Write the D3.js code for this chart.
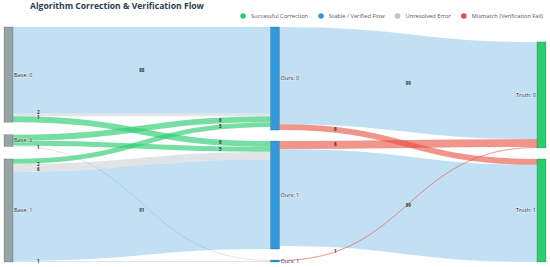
<!DOCTYPE html>
<html>
<head>
<meta charset="utf-8">
<script src="https://cdn.jsdelivr.net/npm/d3@7"></script>
<style>
body { margin: 0; background: #fff; }
svg { display: block; font-family: "Open Sans", sans-serif; }
</style>
</head>
<body>
<div id="vis"></div>
<script>
// constants for the visualization
const FRAME_WIDTH = 550;
const FRAME_HEIGHT = 267;
const MARGINS = {left: 4, right: 4, top: 27, bottom: 5};
const VIS_HEIGHT = FRAME_HEIGHT - (MARGINS.top + MARGINS.bottom);
const NODE_WIDTH = 9;
const NODE_PAD = 11;

// nodes: id, label and column
const NODE_IDS = ["b0", "b2", "b1", "o0", "o1", "o2", "t0", "t1"];
const NODE_LABELS = ["Base: 0", "Base: 2", "Base: 1", "Ours: 0", "Ours: 1", "Ours: 1", "Truth: 0", "Truth: 1"];
const NODE_COLUMNS = [0, 0, 0, 1, 1, 1, 2, 2];
const COLUMN_COLORS = ["#95a5a6", "#3498db", "#2ecc71"];
const COLUMN_ALIGN = ["justify", "justify", "end"];

// links
const LINK_SOURCES = ["b0", "b0", "b0", "b0", "b2", "b2", "b2", "b1", "b1", "b1", "b1", "b1", "o0", "o0", "o1", "o1", "o2"];
const LINK_TARGETS = ["o0", "o0", "o0", "o1", "o0", "o1", "o2", "o0", "o1", "o1", "o1", "o2", "t0", "t1", "t0", "t1", "t0"];
const LINK_VALUES = [88, 2, 1, 6, 6, 5, 1, 5, 2, 6, 91, 1, 99, 6, 8, 99, 1];
const LINK_TYPES = ["stable", "unresolved", "unresolved", "correction", "correction", "correction", "unresolved",
                    "correction", "unresolved", "unresolved", "stable", "unresolved",
                    "stable", "mismatch", "mismatch", "stable", "mismatch"];

// legend categories
const TYPE_KEYS = ["correction", "stable", "unresolved", "mismatch"];
const TYPE_NAMES = ["Successful Correction", "Stable / Verified Flow", "Unresolved Error", "Mismatch (Verification Fail)"];
const TYPE_COLORS = ["#2ecc71", "#3498db", "#bdc3c7", "#e74c3c"];
const TYPE_LINK_COLORS = ["rgba(46,204,113,0.65)", "rgba(52,152,219,0.3)", "rgba(189,195,199,0.45)", "rgba(231,76,60,0.6)"];
// where along the link its value label sits
const TYPE_LABEL_U = [0.85, 0.5, 0.07, 0.17];

const LINK_COLOR = d3.scaleOrdinal().domain(TYPE_KEYS).range(TYPE_LINK_COLORS);
const LEGEND_COLOR = d3.scaleOrdinal().domain(TYPE_KEYS).range(TYPE_COLORS);
const LABEL_U = d3.scaleOrdinal().domain(TYPE_KEYS).range(TYPE_LABEL_U);

const FRAME = d3.select("#vis")
  .append("svg")
  .attr("width", FRAME_WIDTH)
  .attr("height", FRAME_HEIGHT);

// build nodes and links
const NODES = NODE_IDS.map((id, i) => ({id: id, label: NODE_LABELS[i], col: NODE_COLUMNS[i], order: i, ins: [], outs: []}));
const NODE_BY_ID = new Map(NODES.map((n) => [n.id, n]));
const LINKS = LINK_VALUES.map((v, i) => {
  const l = {source: NODE_BY_ID.get(LINK_SOURCES[i]), target: NODE_BY_ID.get(LINK_TARGETS[i]), value: v, type: LINK_TYPES[i], index: i};
  l.source.outs.push(l);
  l.target.ins.push(l);
  return l;
});
NODES.forEach((n) => {
  n.value = Math.max(d3.sum(n.ins, (l) => l.value), d3.sum(n.outs, (l) => l.value));
});

// columns and scales
const COLUMNS = d3.groups(NODES, (n) => n.col).map((g) => g[1]);
const X_SCALE = d3.scalePoint()
  .domain(d3.range(COLUMNS.length))
  .range([MARGINS.left, FRAME_WIDTH - MARGINS.right - NODE_WIDTH]);
const KY = d3.min(COLUMNS, (c) => (VIS_HEIGHT - (c.length - 1) * NODE_PAD) / d3.sum(c, (n) => n.value));
const V_SCALE = d3.scaleLinear().domain([0, 1]).range([0, KY]);

// vertical node positions
COLUMNS.forEach((c, ci) => {
  const total = d3.sum(c, (n) => V_SCALE(n.value));
  let gap = NODE_PAD;
  let y = MARGINS.top;
  if (COLUMN_ALIGN[ci] === "justify" && c.length > 1) {
    gap = (VIS_HEIGHT - total) / (c.length - 1);
  } else if (COLUMN_ALIGN[ci] === "end") {
    y = MARGINS.top + VIS_HEIGHT - total - gap * (c.length - 1);
  }
  c.forEach((n) => {
    n.x0 = X_SCALE(ci);
    n.x1 = n.x0 + NODE_WIDTH;
    n.y0 = y;
    n.y1 = y + V_SCALE(n.value);
    y = n.y1 + gap;
  });
});

// stack links on each node
NODES.forEach((n) => {
  let sy = n.y0;
  n.outs.slice().sort((a, b) => (a.target.order - b.target.order) || (a.index - b.index)).forEach((l) => {
    l.width = V_SCALE(l.value);
    l.sy = sy + l.width / 2;
    sy += l.width;
  });
  let ty = n.y0;
  n.ins.slice().sort((a, b) => (a.source.order - b.source.order) || (a.index - b.index)).forEach((l) => {
    l.ty = ty + V_SCALE(l.value) / 2;
    ty += V_SCALE(l.value);
  });
});

const LINK_PATH = d3.linkHorizontal();

// draw links
FRAME.append("g")
  .selectAll("path")
  .data(LINKS)
  .enter()
  .append("path")
  .attr("d", (d) => LINK_PATH({source: [d.source.x1, d.sy], target: [d.target.x0, d.ty]}))
  .attr("fill", "none")
  .attr("stroke", (d) => LINK_COLOR(d.type))
  .attr("stroke-width", (d) => Math.max(1, d.width));

// link value label positions along the curve
LINKS.forEach((d) => {
  const u = LABEL_U(d.type);
  const fx = 1.5 * u * (1 - u) + u * u * u;
  const fy = 3 * u * u - 2 * u * u * u;
  d.lx = d.source.x1 + (d.target.x0 - d.source.x1) * fx;
  d.ly = d.sy + (d.ty - d.sy) * fy;
});

// push apart labels that sit on top of each other
const MIN_GAP = 5;
for (let k = 0; k < 10; k++) {
  LINKS.forEach((a) => {
    LINKS.forEach((b) => {
      if (a === b || Math.abs(a.lx - b.lx) > 6) return;
      const dy = b.ly - a.ly;
      if (Math.abs(dy) < MIN_GAP) {
        const push = (MIN_GAP - Math.abs(dy)) / 2;
        const dir = dy > 0 || (dy === 0 && a.index < b.index) ? 1 : -1;
        a.ly -= push * dir;
        b.ly += push * dir;
      }
    });
  });
}

FRAME.append("g")
  .selectAll("text")
  .data(LINKS)
  .enter()
  .append("text")
  .attr("x", (d) => d.lx)
  .attr("y", (d) => d.ly)
  .attr("dy", "0.35em")
  .attr("text-anchor", "middle")
  .attr("font-size", "4.5px")
  .attr("font-weight", "bold")
  .attr("fill", "#333")
  .text((d) => d.value);

// draw nodes
FRAME.append("g")
  .selectAll("rect")
  .data(NODES)
  .enter()
  .append("rect")
  .attr("x", (d) => d.x0)
  .attr("y", (d) => d.y0)
  .attr("width", NODE_WIDTH)
  .attr("height", (d) => Math.max(1, d.y1 - d.y0))
  .attr("fill", (d) => COLUMN_COLORS[d.col])
  .attr("stroke", "rgba(0,0,0,0.35)")
  .attr("stroke-width", 0.5);

// node labels
FRAME.append("g")
  .selectAll("text")
  .data(NODES)
  .enter()
  .append("text")
  .attr("x", (d) => d.col === COLUMNS.length - 1 ? d.x0 - 1 : d.x1 + 1)
  .attr("y", (d) => (d.y0 + d.y1) / 2)
  .attr("dy", "0.35em")
  .attr("text-anchor", (d) => d.col === COLUMNS.length - 1 ? "end" : "start")
  .attr("font-size", "5.5px")
  .attr("fill", "#2a2a2a")
  .attr("stroke", "rgba(255,255,255,0.6)")
  .attr("stroke-width", 0.8)
  .attr("paint-order", "stroke")
  .text((d) => d.label);

// title
FRAME.append("text")
  .attr("x", 30)
  .attr("y", 9)
  .attr("font-size", "8.6px")
  .attr("font-weight", "bold")
  .attr("fill", "#2c3e50")
  .text("Algorithm Correction & Verification Flow");

// legend laid out right to left
const LEGEND = FRAME.append("g");
let LEGEND_X = 543;
for (let i = TYPE_KEYS.length - 1; i >= 0; i--) {
  const t = LEGEND.append("text")
    .attr("y", 16)
    .attr("dy", "0.35em")
    .attr("font-size", "5.7px")
    .attr("fill", "#555")
    .text(TYPE_NAMES[i]);
  const w = t.node().getComputedTextLength();
  t.attr("x", LEGEND_X - w);
  LEGEND.append("circle")
    .attr("cx", LEGEND_X - w - 8)
    .attr("cy", 16)
    .attr("r", 2.8)
    .attr("fill", LEGEND_COLOR(TYPE_KEYS[i]));
  LEGEND_X = LEGEND_X - w - 21;
}
</script>
</body>
</html>
